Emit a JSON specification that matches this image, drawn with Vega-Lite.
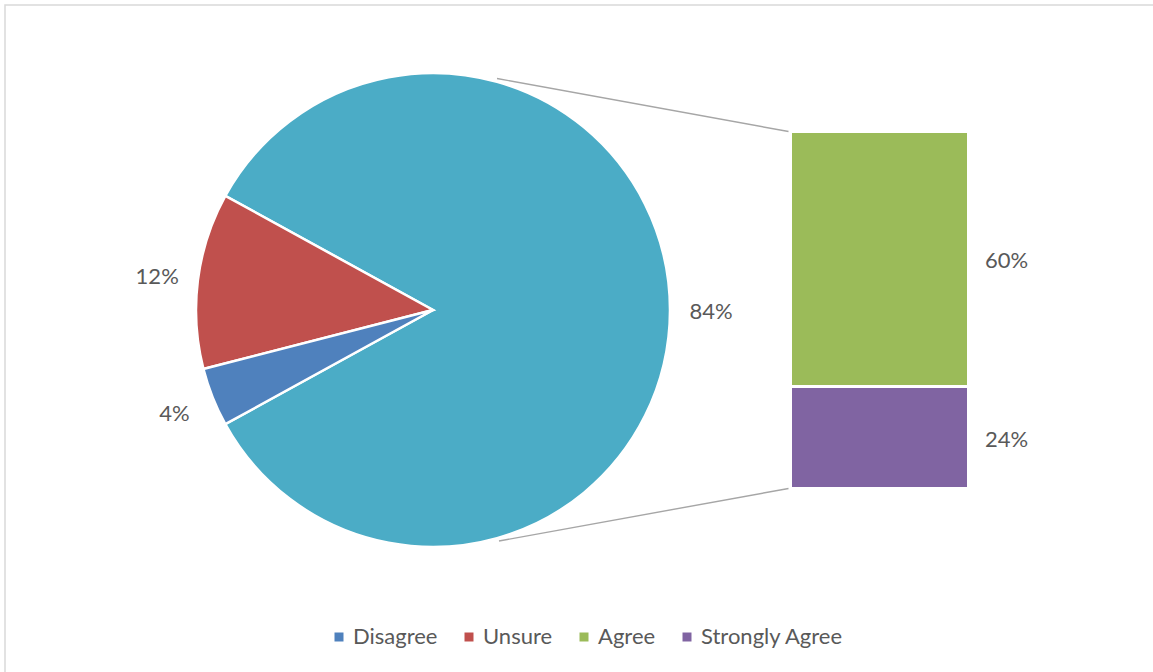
{
  "$schema": "https://vega.github.io/schema/vega-lite/v6.json",
  "width": 1160,
  "height": 680,
  "autosize": "none",
  "padding": {"left": 5, "top": 5, "right": 0, "bottom": 0},
  "background": "white",
  "config": {"view": {"stroke": "#D9D9D9", "strokeWidth": 1.5}, "font": "Lato"},
  "datasets": {
    "pie": [
      {"category": "Other", "value": 0.84},
      {"category": "Unsure", "value": 0.12},
      {"category": "Disagree", "value": 0.04}
    ],
    "bar": [
      {"category": "Agree", "value": 0.60},
      {"category": "Strongly Agree", "value": 0.24}
    ]
  },
  "layer": [
    {
      "data": {"values": [{}]},
      "mark": {"type": "rule", "color": "#A6A6A6", "strokeWidth": 1.4, "xOffset": 64, "x2Offset": -2},
      "encoding": {
        "x": {"datum": "pie", "type": "nominal", "bandPosition": 0.5, "scale": {"type": "band", "domain": ["pie", "bar"], "paddingInner": 0.60134, "paddingOuter": 0.59966, "align": 0.63305}, "axis": null},
        "x2": {"datum": "bar", "bandPosition": 0},
        "y": {"datum": 0.9647, "type": "quantitative", "scale": {"domain": [0, 0.84], "range": [483.5, 126.5], "zero": false, "nice": false}, "axis": null},
        "y2": {"datum": 0.84}
      }
    },
    {
      "data": {"values": [{}]},
      "mark": {"type": "rule", "color": "#A6A6A6", "strokeWidth": 1.4, "xOffset": 66, "x2Offset": -2},
      "encoding": {
        "x": {"datum": "pie", "type": "nominal", "bandPosition": 0.5},
        "x2": {"datum": "bar", "bandPosition": 0},
        "y": {"datum": -0.1235, "type": "quantitative"},
        "y2": {"datum": 0}
      }
    },
    {
      "data": {"name": "pie"},
      "mark": {"type": "arc", "radius": 237, "stroke": "white", "strokeWidth": 2.5},
      "encoding": {
        "x": {"datum": "pie", "type": "nominal", "bandPosition": 0.5},
        "y": {"datum": 0.42, "type": "quantitative"},
        "theta": {"field": "value", "type": "quantitative", "stack": true, "scale": {"range": [4.46106, 10.74425]}},
        "order": {"field": "category", "sort": "descending"},
        "color": {
          "field": "category",
          "type": "nominal",
          "scale": {
            "domain": ["Disagree", "Unsure", "Agree", "Strongly Agree", "Other"],
            "range": ["#4F81BD", "#C0504D", "#9BBB59", "#8064A2", "#4BACC6"]
          },
          "legend": {
            "values": ["Disagree", "Unsure", "Agree", "Strongly Agree"],
            "orient": "none",
            "legendX": 323,
            "legendY": 621,
            "direction": "horizontal",
            "title": null,
            "symbolType": "square",
            "symbolSize": 81,
            "symbolStrokeWidth": 0,
            "labelFontSize": 22,
            "labelColor": "#595959",
            "labelFont": "Lato",
            "columnPadding": 20,
            "labelOffset": 3,
            "padding": 0
          }
        }
      }
    },
    {
      "data": {"name": "pie"},
      "mark": {"type": "text", "radius": 278, "fontSize": 22, "color": "#595959", "font": "Lato", "dy": 2},
      "encoding": {
        "x": {"datum": "pie", "type": "nominal", "bandPosition": 0.5},
        "y": {"datum": 0.42, "type": "quantitative"},
        "theta": {"field": "value", "type": "quantitative", "stack": true},
        "order": {"field": "category", "sort": "descending"},
        "detail": {"field": "category"},
        "text": {"field": "value", "type": "quantitative", "format": ".0%"}
      }
    },
    {
      "data": {"name": "bar"},
      "mark": {"type": "bar", "stroke": "white", "strokeWidth": 3},
      "encoding": {
        "x": {"datum": "bar", "type": "nominal"},
        "y": {"field": "value", "type": "quantitative", "stack": "zero"},
        "order": {"field": "category", "sort": "descending"},
        "color": {"field": "category", "type": "nominal"}
      }
    },
    {
      "data": {"name": "bar"},
      "mark": {"type": "text", "align": "left", "dx": 16.5, "dy": 2, "fontSize": 22, "color": "#595959", "font": "Lato"},
      "encoding": {
        "x": {"datum": "bar", "type": "nominal", "bandPosition": 1},
        "y": {"field": "value", "type": "quantitative", "stack": "zero", "bandPosition": 0.5},
        "order": {"field": "category", "sort": "descending"},
        "detail": {"field": "category"},
        "text": {"field": "value", "type": "quantitative", "format": ".0%"}
      }
    }
  ]
}
